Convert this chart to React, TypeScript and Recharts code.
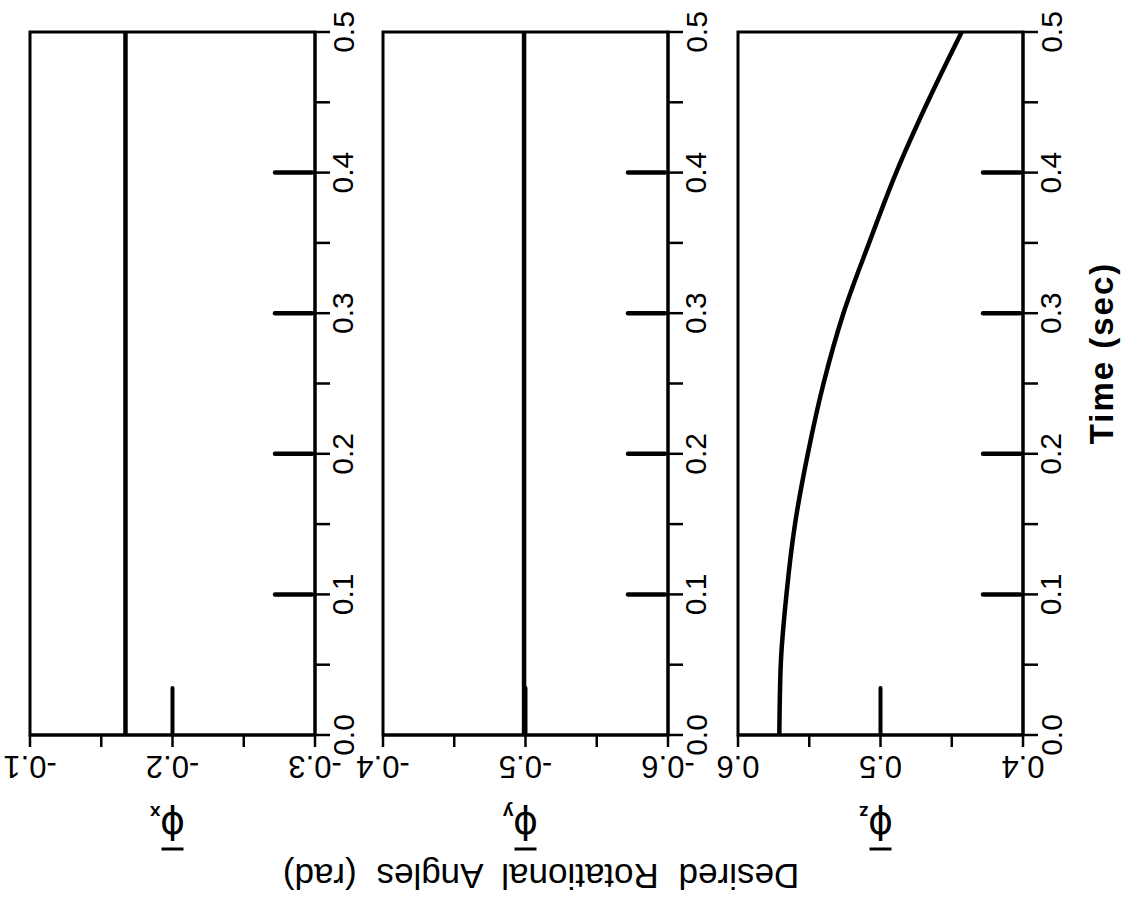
import React from 'react';
import { LineChart, Line, XAxis, YAxis, ReferenceArea } from 'recharts';

// Time axis (seconds)
const timeMajorTicks = [0, 0.1, 0.2, 0.3, 0.4, 0.5];
const timeMinorTicks = [0.05, 0.15, 0.25, 0.35, 0.45];

// Roll angle φx (rad)
const phiXTime = [0, 0.5];
const phiXValues = [-0.167, -0.167];
const phiXMajorTicks = [-0.3, -0.2, -0.1];
const phiXMinorTicks = [-0.25, -0.15];

// Pitch angle φy (rad)
const phiYTime = [0, 0.5];
const phiYValues = [-0.499, -0.499];
const phiYMajorTicks = [-0.6, -0.5, -0.4];
const phiYMinorTicks = [-0.55, -0.45];

// Yaw angle φz (rad)
const phiZTime = [0, 0.05, 0.1, 0.15, 0.2, 0.25, 0.3, 0.35, 0.4, 0.45, 0.5];
const phiZValues = [0.571, 0.570, 0.566, 0.560, 0.551, 0.540, 0.526, 0.508, 0.489, 0.467, 0.443];
const phiZMajorTicks = [0.4, 0.5, 0.6];
const phiZMinorTicks = [0.45, 0.55];

const panelSubscripts = ['x', 'y', 'z'];
const titleText = 'Desired Rotational Angles (rad)';
const timeAxisTitle = 'Time (sec)';

const CHART_H = 904;
const MARGIN = { top: 32, right: 25, bottom: 0, left: 30 };
const Y_AXIS_W = 40;
const X_AXIS_H = 169;
const PLOT_W = 285;
const CHART_W = MARGIN.left + PLOT_W + Y_AXIS_W + MARGIN.right;

const TIME_TICK = 15;
const TIME_TICK_MARGIN = 2;
const VALUE_TICK = 12;
const VALUE_TICK_MARGIN = 2;
const FONT = '"Liberation Sans", Arial, Helvetica, sans-serif';
const INK = '#000';

const near = (a: number, b: number) => Math.abs(a - b) < 1e-9;
const isIn = (v: number, list: number[]) => list.some((m) => near(m, v));
const sorted = (a: number[], b: number[]) => [...a, ...b].sort((p, q) => p - q);

function TimeTick(props: any) {
  const { x, y, payload } = props;
  const v = payload.value as number;
  if (!isIn(v, timeMajorTicks)) return null;
  const axisX = x - TIME_TICK - TIME_TICK_MARGIN;
  const first = timeMajorTicks[0];
  const last = timeMajorTicks[timeMajorTicks.length - 1];
  const inner = !near(v, first) && !near(v, last);
  const lx = axisX + 28;
  return (
    <g>
      {inner && (
        <line x1={axisX - 3} x2={axisX - 40} y1={y} y2={y} stroke={INK} strokeWidth={4.5} strokeLinecap="round" />
      )}
      <text
        x={lx}
        y={y}
        transform={`rotate(-90 ${lx} ${y})`}
        textAnchor="middle"
        dominantBaseline="central"
        fontSize={30}
        fontFamily={FONT}
        fill={INK}
      >
        {v.toFixed(1)}
      </text>
    </g>
  );
}

function makeValueTick(majors: number[]) {
  return function ValueTick(props: any) {
    const { x, y, payload } = props;
    const v = payload.value as number;
    if (!isIn(v, majors)) return null;
    const axisY = y - VALUE_TICK - VALUE_TICK_MARGIN;
    const mid = majors[Math.floor(majors.length / 2)];
    const ly = axisY + 31;
    return (
      <g>
        {near(v, mid) && (
          <line x1={x} x2={x} y1={axisY - 2} y2={axisY - 47} stroke={INK} strokeWidth={4} strokeLinecap="round" />
        )}
        <text
          x={x}
          y={ly}
          transform={`rotate(180 ${x} ${ly})`}
          textAnchor="middle"
          dominantBaseline="central"
          fontSize={31}
          fontFamily={FONT}
          fill={INK}
        >
          {v.toFixed(1)}
        </text>
      </g>
    );
  };
}

function PhiLabel({ viewBox, sub }: { viewBox?: any; sub: string }) {
  const vb = viewBox || { x: MARGIN.left, y: CHART_H - X_AXIS_H, width: PLOT_W, height: X_AXIS_H };
  const cx = vb.x + vb.width / 2;
  const cy = vb.y + 91;
  return (
    <g transform={`rotate(180 ${cx} ${cy})`}>
      <line x1={cx - 11} x2={cx + 11} y1={cy - 23} y2={cy - 23} stroke={INK} strokeWidth={3} />
      <text
        x={cx}
        y={cy}
        textAnchor="middle"
        dominantBaseline="central"
        fontSize={38}
        fontFamily='"DejaVu Sans", sans-serif'
        fill={INK}
      >
        {'\u03D5'}
      </text>
      <text x={cx + 12} y={cy + 20} fontSize={19} fontWeight="bold" fontFamily={FONT} fill={INK}>
        {sub}
      </text>
    </g>
  );
}

type PanelProps = {
  time: number[];
  values: number[];
  majors: number[];
  minors: number[];
  sub: string;
};

function Panel({ time, values, majors, minors, sub }: PanelProps) {
  const data = time.map((t, i) => ({ t, v: values[i] }));
  const lo = majors[0];
  const hi = majors[majors.length - 1];
  const ValueTick = makeValueTick(majors);
  return (
    <LineChart width={CHART_W} height={CHART_H} data={data} layout="vertical" margin={MARGIN}>
      <ReferenceArea
        x1={lo}
        x2={hi}
        y1={timeMajorTicks[0]}
        y2={timeMajorTicks[timeMajorTicks.length - 1]}
        fill="none"
        stroke={INK}
        strokeWidth={3}
        ifOverflow="visible"
      />
      <XAxis
        type="number"
        domain={[lo, hi]}
        reversed
        ticks={sorted(majors, minors)}
        interval={0}
        height={X_AXIS_H}
        allowDataOverflow
        axisLine={{ stroke: INK, strokeWidth: 3 }}
        tickLine={{ stroke: INK, strokeWidth: 2.5 }}
        tickSize={VALUE_TICK}
        tickMargin={VALUE_TICK_MARGIN}
        tick={<ValueTick />}
        label={{ content: (lp: any) => <PhiLabel viewBox={lp.viewBox} sub={sub} /> }}
      />
      <YAxis
        type="number"
        dataKey="t"
        orientation="right"
        domain={[timeMajorTicks[0], timeMajorTicks[timeMajorTicks.length - 1]]}
        reversed
        ticks={sorted(timeMajorTicks, timeMinorTicks)}
        interval={0}
        width={Y_AXIS_W}
        allowDataOverflow
        axisLine={{ stroke: INK, strokeWidth: 3 }}
        tickLine={{ stroke: INK, strokeWidth: 2.5 }}
        tickSize={TIME_TICK}
        tickMargin={TIME_TICK_MARGIN}
        tick={<TimeTick />}
      />
      <Line
        dataKey="v"
        type="monotone"
        stroke={INK}
        strokeWidth={4.5}
        dot={false}
        activeDot={false}
        isAnimationActive={false}
      />
    </LineChart>
  );
}

const panels = [
  { left: 0, time: phiXTime, values: phiXValues, majors: phiXMajorTicks, minors: phiXMinorTicks },
  { left: 353, time: phiYTime, values: phiYValues, majors: phiYMajorTicks, minors: phiYMinorTicks },
  { left: 708, time: phiZTime, values: phiZValues, majors: phiZMajorTicks, minors: phiZMinorTicks },
];

export default function App() {
  return (
    <div
      style={{
        position: 'absolute',
        left: 0,
        top: 0,
        width: 1123,
        height: 904,
        background: '#fff',
        overflow: 'hidden',
      }}
    >
      {panels.map((p, i) => (
        <div key={i} style={{ position: 'absolute', left: p.left, top: 0 }}>
          <Panel time={p.time} values={p.values} majors={p.majors} minors={p.minors} sub={panelSubscripts[i]} />
        </div>
      ))}
      <svg width={1123} height={904} style={{ position: 'absolute', left: 0, top: 0, pointerEvents: 'none' }}>
        <text
          x={1101}
          y={353}
          transform="rotate(-90 1101 353)"
          textAnchor="middle"
          dominantBaseline="central"
          fontSize={33}
          fontWeight="bold"
          letterSpacing={2}
          fontFamily={FONT}
          fill={INK}
        >
          {timeAxisTitle}
        </text>
        <text
          x={541}
          y={876}
          transform="rotate(180 541 876)"
          textAnchor="middle"
          dominantBaseline="central"
          fontSize={35}
          wordSpacing={10}
          fontFamily={FONT}
          fill={INK}
        >
          {titleText}
        </text>
      </svg>
    </div>
  );
}
